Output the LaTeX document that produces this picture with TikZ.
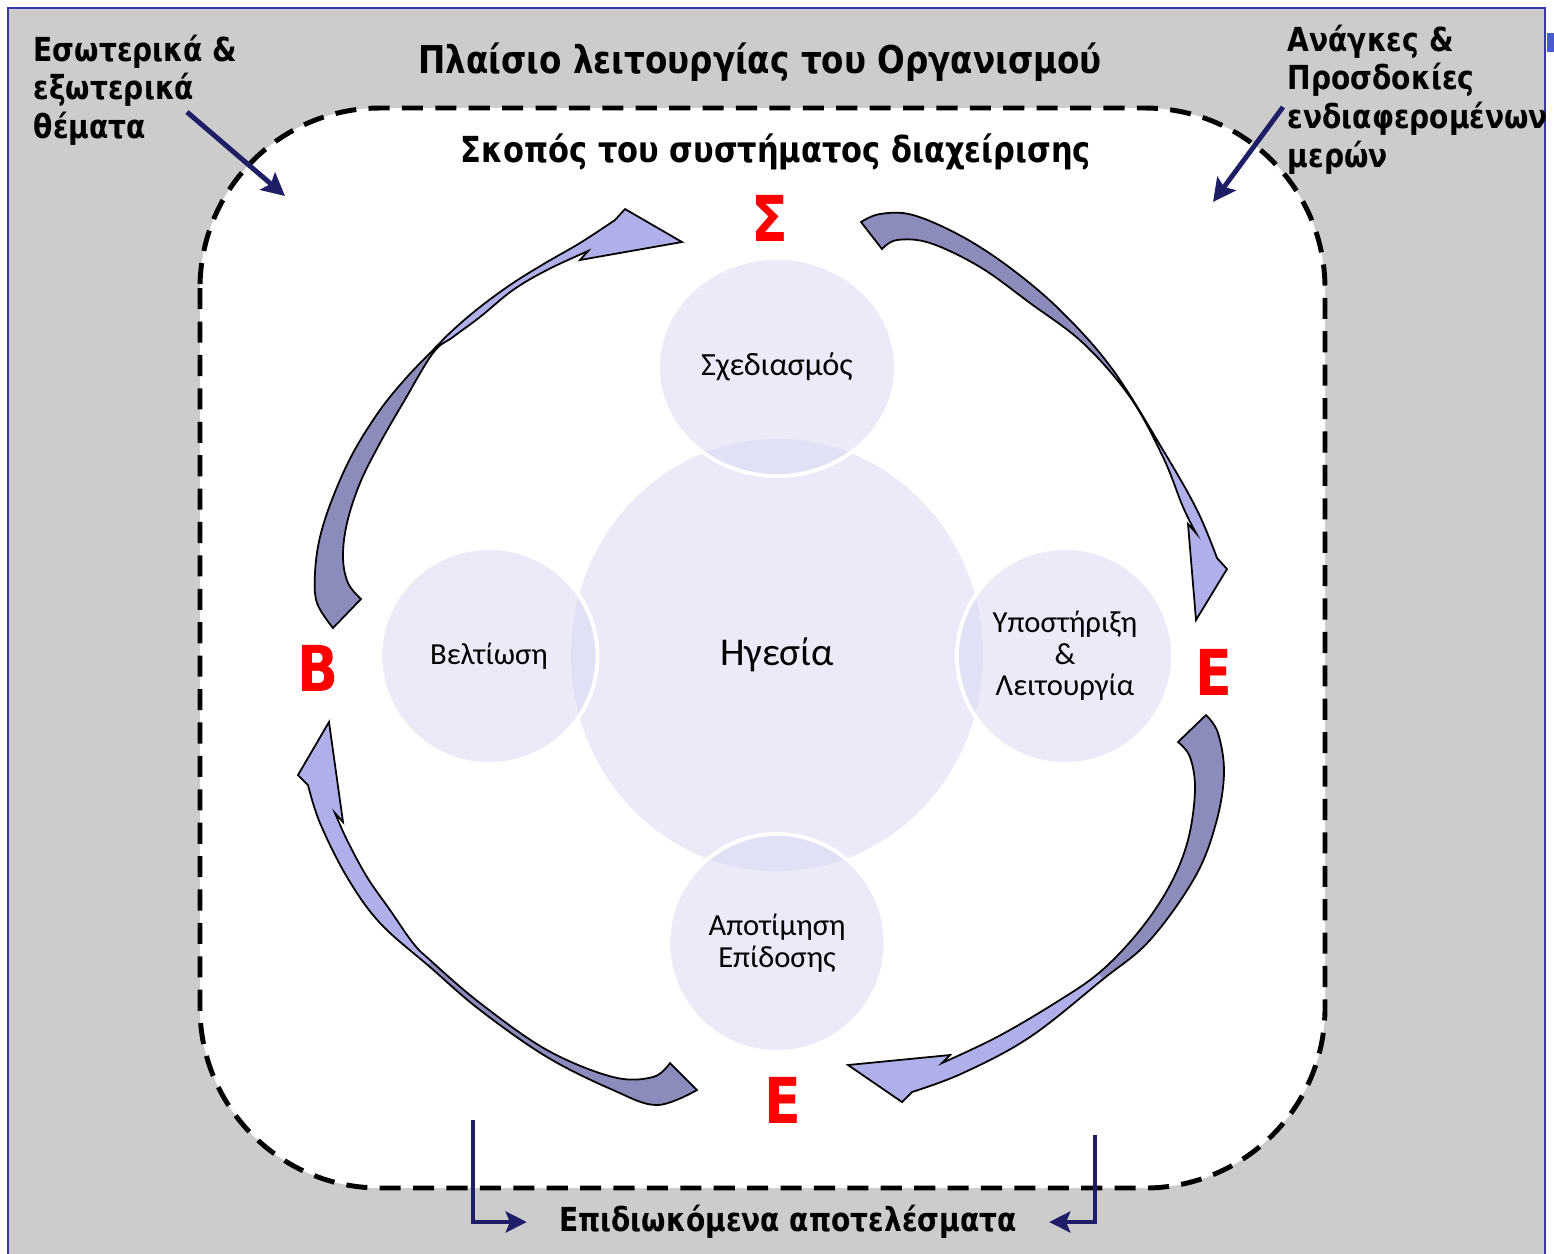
\documentclass[tikz,border=0pt]{standalone}
\usepackage{fontspec}
\usepackage{tikz}
\usetikzlibrary{shapes.geometric,arrows.meta}
\setmainfont{DejaVu Sans}
\newfontfamily\tahoma{DejaVu Sans}[FakeStretch=0.85]
\newfontfamily\calibri{Carlito}
\definecolor{framegrey}{HTML}{CCCCCC}
\definecolor{frameblue}{HTML}{3838A8}
\definecolor{tabblue}{HTML}{4A5BCF}
\definecolor{bubblefill}{HTML}{DCDCF4}
\definecolor{ribbondark}{HTML}{8C8CBC}
\definecolor{ribbonlight}{HTML}{AFAFEA}
\definecolor{navy}{HTML}{1E1E66}
% the four curved block arrows (pixel coordinates)
\newcommand\ribbonTL{plot[smooth,tension=0.6] coordinates {(333,628) (317,603) (315,573) (320,537) (333,497) (353,453) (380,410) (407,377) (433,350) (453,330) (480,307) (513,283) (547,262) (580,243) (615,220)}
    -- (625,209) -- (682,242) -- (580,260)
    -- plot[smooth,tension=0.6] coordinates {(588,251) (547,270) (513,290) (480,317) (453,337) (433,353) (403,403) (380,443) (360,483) (347,523) (343,557) (348,583) (361,599)} -- cycle}
\newcommand\ribbonTR{plot[smooth,tension=0.6] coordinates {(861,222) (880,214) (913,215) (963,237) (1013,270) (1063,313) (1113,370) (1163,450) (1197,510) (1217,558)}
    -- (1227,569) -- (1196,620) -- (1188,524)
    -- plot[smooth,tension=0.6] coordinates {(1196,533) (1183,507) (1163,457) (1130,397) (1083,343) (1030,303) (980,267) (930,243) (897,240) (882,249)} -- cycle}
\newcommand\ribbonBR{plot[smooth,tension=0.6] coordinates {(1206,715) (1218,733) (1224,773) (1216,823) (1195,877) (1150,940) (1102,980) (1030,1037) (963,1073) (912,1092)}
    -- (902,1102) -- (848,1065) -- (950,1055)
    -- plot[smooth,tension=0.6] coordinates {(942,1063) (997,1037) (1055,1003) (1100,972) (1140,930) (1170,885) (1188,840) (1195,790) (1190,757) (1178,742)} -- cycle}
\newcommand\ribbonBL{plot[smooth,tension=0.6] coordinates {(697,1090) (657,1105) (613,1090) (547,1057) (480,1010) (430,967) (380,923) (347,877) (320,823) (308,785)}
    -- (298,775) -- (329,722) -- (343,822)
    -- plot[smooth,tension=0.6] coordinates {(335,813) (347,840) (367,877) (390,910) (413,943) (430,960) (480,1003) (547,1050) (613,1077) (653,1077) (670,1063)} -- cycle}

\begin{document}
\begin{tikzpicture}[x=0.01cm,y=-0.01cm,
    boldlbl/.style={font=\tahoma\bfseries\fontsize{10.2}{11}\selectfont, inner sep=0pt},
    sidelbl/.style={font=\tahoma\bfseries\fontsize{9.4}{11}\selectfont, inner sep=0pt, align=left},
    bubble/.style={ellipse, fill=bubblefill, fill opacity=0.6, text opacity=1, draw=white, line width=1.1pt,
        font=\calibri\fontsize{8.7}{9}\selectfont, align=center, inner sep=0pt},
    redltr/.style={text=red, font=\tahoma\bfseries\fontsize{18}{18}\selectfont, inner sep=0pt},
    navyarrow/.style={navy, line width=1.4pt, -{Stealth[length=6.5pt,width=6.5pt,inset=1.2pt]}},
    navyline/.style={navy, line width=1.1pt, -{Stealth[length=6pt,width=6pt,inset=1.2pt]}},
    ribbonedge/.style={draw=black, line width=0.5pt, line join=miter}]
    \useasboundingbox (0,0) rectangle (1554,1253);
    % frame of the slide
    \fill[white] (0,0) rectangle (1554,1253);
    \draw[fill=framegrey, draw=frameblue, line width=0.6pt] (8,8) rectangle (1545,1270);
    \fill[tabblue] (1547,33) rectangle (1554,52);
    \draw[fill=white, dashed, line width=1.4pt, dash pattern=on 6pt off 3.5pt, rounded corners=1.8cm]
        (200,108) rectangle (1325,1188);

    % circles
    \node[bubble, draw=none, minimum width=4.12cm, minimum height=4.32cm,
        font=\calibri\fontsize{11.2}{12}\selectfont] (lead) at (777,655) {Ηγεσία};
    \node[bubble, minimum width=2.38cm, minimum height=2.18cm,
        font=\calibri\fontsize{9.2}{9}\selectfont] (plan) at (777,367) {Σχεδιασμός};
    \node[bubble, minimum width=2.17cm, minimum height=2.16cm] (improve) at (489,656) {Βελτίωση};
    \node[bubble, minimum width=2.16cm, minimum height=2.16cm] (support) at (1065,656) {Υποστήριξη\\\&\\Λειτουργία};
    \node[bubble, minimum width=2.17cm, minimum height=2.18cm] (evaluate) at (777,943) {Αποτίμηση\\Επίδοσης};

    % curved arrows
    \fill[ribbonlight] \ribbonTL;
    \begin{scope}
        \clip (33,-50) -- (933,850) -- (0,850) -- (0,-50) -- cycle;
        \fill[ribbondark] \ribbonTL;
    \end{scope}
    \draw[ribbonedge] \ribbonTL;
    \fill[ribbonlight] \ribbonTR;
    \begin{scope}
        \clip (640,680) -- (1600,80) -- (1600,-100) -- (640,-100) -- cycle;
        \fill[ribbondark] \ribbonTR;
    \end{scope}
    \draw[ribbonedge] \ribbonTR;
    \fill[ribbonlight] \ribbonBR;
    \begin{scope}
        \clip (700,475) -- (1500,1475) -- (1600,1475) -- (1600,300) -- (700,300) -- cycle;
        \fill[ribbondark] \ribbonBR;
    \end{scope}
    \draw[ribbonedge] \ribbonBR;
    \fill[ribbonlight] \ribbonBL;
    \begin{scope}
        \clip (100,1293) -- (1000,393) -- (1000,1300) -- (100,1300) -- cycle;
        \fill[ribbondark] \ribbonBL;
    \end{scope}
    \draw[ribbonedge] \ribbonBL;

    % letters
    \node[redltr] (S) at (770,218) {Σ};
    \node[redltr] (E1) at (1214,672) {Ε};
    \node[redltr] (E2) at (783,1100) {Ε};
    \node[redltr] (B) at (318,668) {Β};

    % texts
    \node[boldlbl, font=\tahoma\bfseries\fontsize{10.9}{11}\selectfont] (frame) at (760,62) {Πλαίσιο λειτουργίας του Οργανισμού};
    \node[boldlbl] (purpose) at (776,152) {Σκοπός του συστήματος διαχείρισης};
    \node[boldlbl, font=\tahoma\bfseries\fontsize{9.4}{11}\selectfont, inner xsep=9pt] (results) at (788,1222) {Επιδιωκόμενα αποτελέσματα};
    \node[sidelbl, anchor=north west] (issues) at (33,34) {Εσωτερικά \&\\εξωτερικά\\θέματα};
    \node[sidelbl, anchor=north west] (needs) at (1287,24) {Ανάγκες \&\\Προσδοκίες\\ενδιαφερομένων\\μερών};

    % pointers
    \coordinate (issuesA) at (187,112);
    \coordinate (issuesB) at (285,196);
    \coordinate (needsA) at (1283,107);
    \coordinate (needsB) at (1213,202);
    \coordinate (outL) at (473,1120);
    \coordinate (outR) at (1095,1135);
    \draw[navyarrow] (issuesA) -- (issuesB);
    \draw[navyarrow] (needsA) -- (needsB);
    \draw[navyline] (outL) |- (results.west);
    \draw[navyline] (outR) |- (results.east);
\end{tikzpicture}
\end{document}
